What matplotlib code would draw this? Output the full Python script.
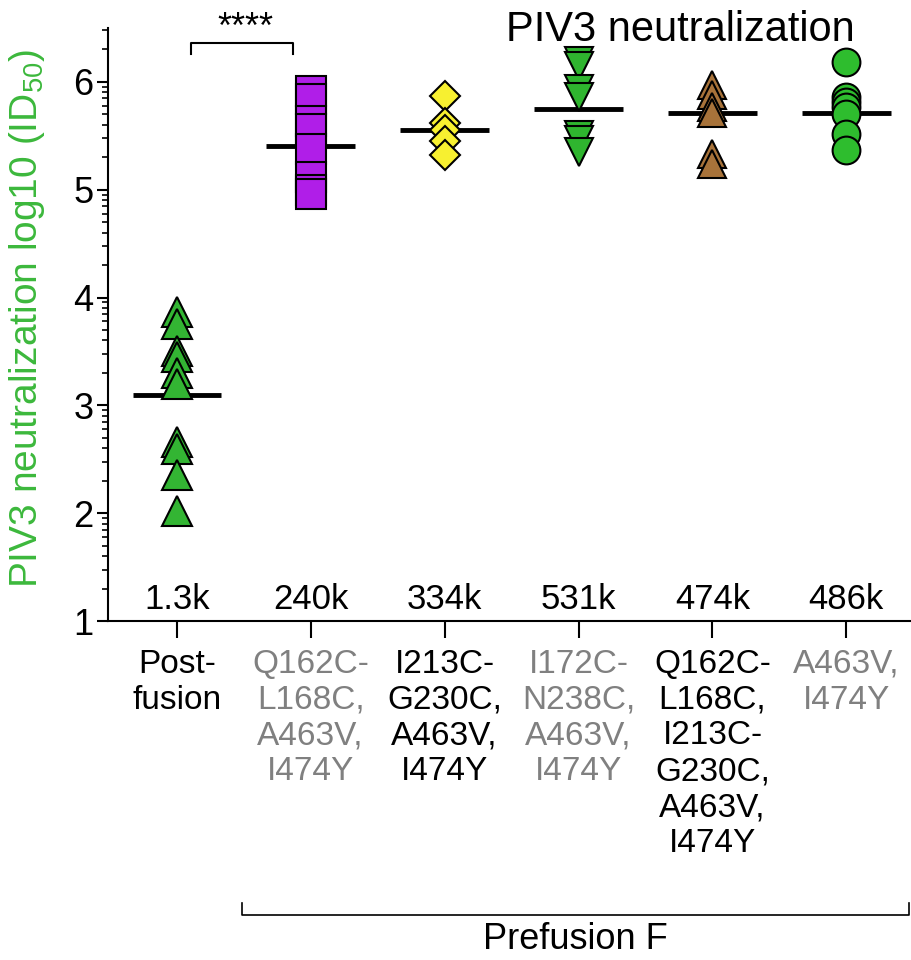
import numpy as np
import matplotlib
matplotlib.use('Agg')
import matplotlib.pyplot as plt
from matplotlib.ticker import FixedLocator
import matplotlib.transforms as mtransforms

plt.rcParams['font.family'] = ['Liberation Sans', 'DejaVu Sans']
plt.rcParams['mathtext.fontset'] = 'custom'
plt.rcParams['mathtext.rm'] = 'Liberation Sans'

# values (log10 ID50)
postfusion = [3.87, 3.75, 3.50, 3.45, 3.30, 3.20, 2.66, 2.60, 2.35, 2.02]
q162c_l168c = [5.91, 5.84, 5.64, 5.56, 5.38, 5.12, 5.00, 4.96]
i213c_g230c = [5.87, 5.62, 5.55, 5.45, 5.32]
i172c_n238c = [6.19, 6.15, 5.93, 5.86, 5.51, 5.46, 5.35]
dual_ds = [5.97, 5.88, 5.77, 5.71, 5.33, 5.24]
a463v_i474y = [6.18, 5.86, 5.81, 5.77, 5.70, 5.52, 5.37]
groups = [postfusion, q162c_l168c, i213c_g230c, i172c_n238c, dual_ds, a463v_i474y]

means = [3.10, 5.40, 5.55, 5.75, 5.71, 5.71]
counts = ['1.3k', '240k', '334k', '531k', '474k', '486k']
labels = ['Post-\nfusion',
          'Q162C-\nL168C,\nA463V,\nI474Y',
          'I213C-\nG230C,\nA463V,\nI474Y',
          'I172C-\nN238C,\nA463V,\nI474Y',
          'Q162C-\nL168C,\nI213C-\nG230C,\nA463V,\nI474Y',
          'A463V,\nI474Y']
label_colors = ['black', '#808080', 'black', '#808080', 'black', '#808080']

markers = ['^', 's', 'D', 'v', '^', 'o']
sizes = [21, 21, 15, 20, 20, 20]
colors = ['#33b533', '#b01ee8', '#f7f030', '#2fb52f', '#a8733a', '#2ebd2e']

fig = plt.figure(figsize=(9.12, 9.6), dpi=100)
ax = fig.add_axes([0.118, 0.353, 0.882, 0.618])

for i, vals in enumerate(groups):
    ax.plot([i] * len(vals), vals, linestyle='none', marker=markers[i],
            markersize=sizes[i], markerfacecolor=colors[i],
            markeredgecolor='black', markeredgewidth=1.5, zorder=3,
            clip_on=False)
    ax.plot([i - 0.33, i + 0.33], [means[i], means[i]], color='black',
            lw=3.5, zorder=2, solid_capstyle='butt')
    ax.text(i, 1.2, counts[i], ha='center', va='center', fontsize=25)

ax.set_xlim(-0.516, 5.49)
ax.set_ylim(1, 6.5)
ax.set_xticks(range(6))
ax.set_xticklabels(labels, fontsize=24, linespacing=1.2, va='top')
for t, c in zip(ax.get_xticklabels(), label_colors):
    t.set_color(c)
ax.set_yticks([1, 2, 3, 4, 5, 6])
ax.set_yticklabels(['1', '2', '3', '4', '5', '6'], fontsize=26)
minor = [n + np.log10(k) for n in range(1, 7) for k in range(2, 10) if n + np.log10(k) < 6.5]
ax.yaxis.set_minor_locator(FixedLocator(minor))
ax.tick_params(axis='y', which='major', length=8, width=1.5, pad=2)
ax.tick_params(axis='y', which='minor', length=4, width=1.2)
ax.tick_params(axis='x', which='major', length=12, width=1.5, pad=8)
for s in ['top', 'right']:
    ax.spines[s].set_visible(False)
for s in ['left', 'bottom']:
    ax.spines[s].set_linewidth(1.5)

ax.set_ylabel('PIV3 neutralization log10 (ID$_{\\mathregular{50}}$)',
              color='#3cb83c', fontsize=28)
ax.yaxis.set_label_coords(-0.075, 0.51)

# significance bracket
ax.plot([0.11, 0.11, 0.87, 0.87], [6.26, 6.36, 6.36, 6.26], color='black',
        lw=1.5, clip_on=False)
ax.text(0.51, 6.41, '****', ha='center', va='baseline', fontsize=26, clip_on=False)

fig.text(0.746, 0.969, 'PIV3 neutralization', ha='center', va='center', fontsize=30)

# prefusion bracket
trans = mtransforms.blended_transform_factory(ax.transData, fig.transFigure)
ax.plot([0.49, 0.49, 5.47, 5.47], [0.059, 0.047, 0.047, 0.059], color='black',
        lw=1.2, transform=trans, clip_on=False)
ax.text(2.98, 0.021, 'Prefusion F', ha='center', va='center', fontsize=26,
        transform=trans)

fig.savefig('out.png', dpi=100)
